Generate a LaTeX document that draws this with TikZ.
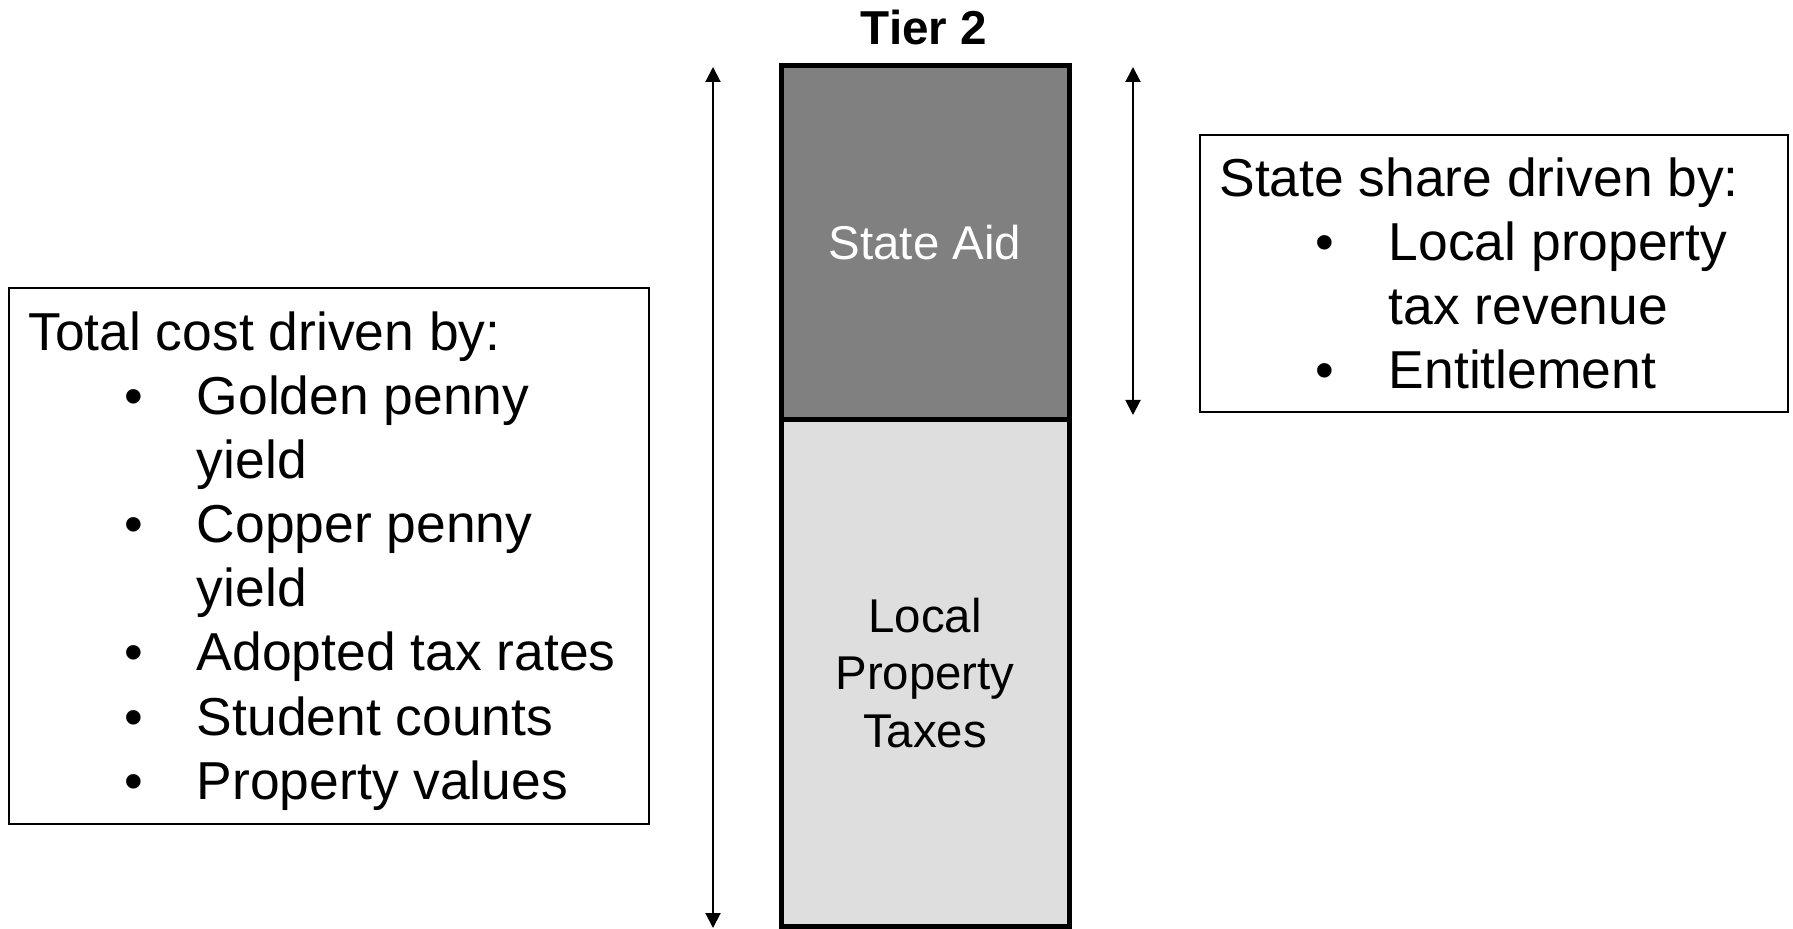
\documentclass[tikz,border=0pt]{standalone}
\usepackage{fontspec}
\setmainfont{Liberation Sans}
\usetikzlibrary{arrows.meta}
\begin{document}
\begin{tikzpicture}[x=0.5pt,y=-0.5pt,
  body/.style={font=\fontsize{26.7}{32}\selectfont, anchor=base west, inner sep=0pt},
  barpart/.style={draw=black, line width=2.5pt, inner sep=0pt, outer sep=0pt, minimum width=144pt, anchor=north west,
    font=\fontsize{23.7}{28.7}\selectfont, align=center},
  infobox/.style={draw=black, line width=0.75pt, inner sep=0pt, outer sep=0pt, anchor=north west},
  dimarrow/.style={line width=1pt, {Triangle[length=7.5pt,width=7.5pt]}-{Triangle[length=7.5pt,width=7.5pt]}}]
\useasboundingbox (0,0) rectangle (1793,929);
\fill[white] (0,0) rectangle (1793,929);

% title
\node[font=\bfseries\fontsize{23.8}{28}\selectfont, anchor=base, inner sep=0pt] (title) at (924,45) {Tier 2};

% bar
\node[barpart, fill=black!50, text=white, minimum height=177pt] (aid) at (781,66) {State Aid};
\node[barpart, fill=black!13, minimum height=253pt] (local) at (781,420) {Local\\Property\\Taxes};

% arrows
\coordinate (la1) at (713,67);
\coordinate (la2) at (713,928);
\draw[dimarrow] (la1) -- (la2);
\coordinate (ra1) at (1133,67);
\coordinate (ra2) at (1133,415);
\draw[dimarrow] (ra1) -- (ra2);

% left box
\node[infobox, minimum width=320pt, minimum height=268pt] (costbox) at (9,288) {};
\node[body] (c0) at (28,351) {Total cost driven by:};
\node[body] (b1) at (124,415) {•};
\node[body] (c1) at (196.5,415) {Golden penny};
\node[body] (c1b) at (196.5,479) {yield};
\node[body] (b2) at (124,543) {•};
\node[body] (c2) at (196.5,543) {Copper penny};
\node[body] (c2b) at (196.5,607) {yield};
\node[body] (b3) at (124,671) {•};
\node[body] (c3) at (196.5,671) {Adopted tax rates};
\node[body] (b4) at (124,735) {•};
\node[body] (c4) at (196.5,735) {Student counts};
\node[body] (b5) at (124,799) {•};
\node[body] (c5) at (196.5,799) {Property values};

% right box
\node[infobox, minimum width=294pt, minimum height=138.5pt] (sharebox) at (1200,135) {};
\node[body] (s0) at (1219,197) {State share driven by:};
\node[body] (sb1) at (1315,261) {•};
\node[body] (s1) at (1388.5,261) {Local property};
\node[body] (s1b) at (1388.5,325) {tax revenue};
\node[body] (sb2) at (1315,389) {•};
\node[body] (s2) at (1388.5,389) {Entitlement};
\end{tikzpicture}
\end{document}
